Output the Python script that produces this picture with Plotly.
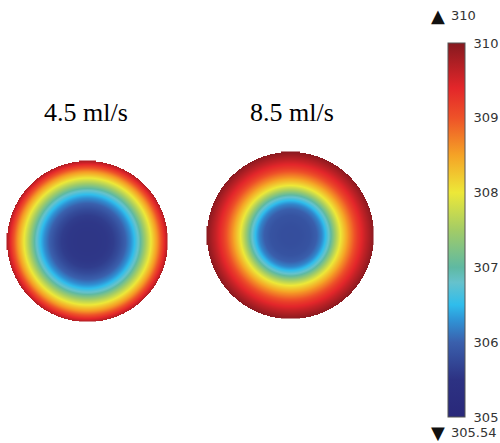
import numpy as np
import plotly.graph_objects as go

# Radial temperature profiles (values on the colour-bar scale)
flow_labels = ["4.5 ml/s", "8.5 ml/s"]
left_radius = [0, 10, 20, 26, 32, 38, 43, 47, 52, 58, 64, 70, 75, 80]
left_temp = [305.54, 305.54, 305.56, 305.62, 305.78, 306.0, 306.25, 306.5, 306.9, 307.5, 308.05, 308.6, 309.15, 309.7]
right_radius = [0, 10, 20, 26, 31, 35, 40, 45, 50, 58, 67, 75, 83]
right_temp = [305.8, 305.81, 305.86, 305.98, 306.2, 306.5, 306.95, 307.5, 308.0, 308.6, 309.2, 309.6, 309.95]
cbar_ticks = [305, 306, 307, 308, 309, 310]
t_min, t_max = 305.54, 310.0

# Placement of the two discs and the colour bar, in page pixels
discs = [
    dict(cx=87, cy=241, R=80, r=left_radius, t=left_temp, label_x=85.5),
    dict(cx=290, cy=235, R=83, r=right_radius, t=right_temp, label_x=291.5),
]
bar_left, bar_right, bar_top, bar_bottom = 448, 465, 43, 417
z_lo, z_hi = 305, 310

rainbow = [
    [0.00, "#29287a"],
    [0.10, "#2d3283"],
    [0.20, "#3a60ad"],
    [0.26, "#2f94d6"],
    [0.30, "#2fbdec"],
    [0.36, "#66c2cc"],
    [0.40, "#5fb9a2"],
    [0.50, "#a3cc66"],
    [0.60, "#ede838"],
    [0.70, "#f5a326"],
    [0.80, "#ee5228"],
    [0.88, "#e3262a"],
    [1.00, "#85191f"],
]

fig = go.Figure()

for i, d in enumerate(discs):
    xs = np.arange(d["cx"] - d["R"], d["cx"] + d["R"] + 1, 1.0)
    ys = np.arange(d["cy"] - d["R"], d["cy"] + d["R"] + 1, 1.0)
    X, Y = np.meshgrid(xs, ys)
    rr = np.hypot(X - d["cx"], Y - d["cy"])
    z = np.interp(rr, d["r"], d["t"])
    z[rr > d["R"] + 0.5] = np.nan
    fig.add_trace(go.Heatmap(
        x=xs, y=ys, z=z,
        colorscale=rainbow, zmin=z_lo, zmax=z_hi,
        showscale=(i == 0),
        hoverinfo="skip",
        colorbar=dict(
            x=bar_left / 500, xanchor="left", xref="paper",
            y=1 - bar_top / 443, yanchor="top", yref="paper",
            len=bar_bottom - bar_top, lenmode="pixels",
            thickness=bar_right - bar_left, thicknessmode="pixels",
            outlinewidth=1, outlinecolor="#555555",
            tickvals=cbar_ticks, ticktext=[str(v) for v in cbar_ticks],
            ticks="outside", ticklen=6, tickcolor="rgba(0,0,0,0)",
            tickfont=dict(family="DejaVu Sans", size=13, color="#333333"),
            xpad=0, ypad=0,
        ),
    ))

# Small tick dashes on both edges of the colour bar
shapes = []
for v in cbar_ticks:
    if z_lo < v < z_hi:
        yv = bar_top + (z_hi - v) / (z_hi - z_lo) * (bar_bottom - bar_top)
        for x0, x1 in [(bar_left, bar_left + 3), (bar_right - 3, bar_right)]:
            shapes.append(dict(type="line", xref="x", yref="y", x0=x0, x1=x1,
                               y0=yv, y1=yv, line=dict(color="#333333", width=1)))

annotations = []
for d, lab in zip(discs, flow_labels):
    annotations.append(dict(
        x=d["label_x"], y=112, xref="x", yref="y", text=lab, showarrow=False,
        xanchor="center", yanchor="middle",
        font=dict(family="Liberation Serif", size=26, color="black"),
    ))

small = dict(family="DejaVu Sans", size=13, color="#333333")
tri = dict(family="DejaVu Sans", size=18, color="#111111")
annotations += [
    dict(x=437.5, y=15, xref="x", yref="y", text="▲", showarrow=False,
         xanchor="center", yanchor="middle", font=tri),
    dict(x=449, y=15, xref="x", yref="y", text=f"{t_max:g}", showarrow=False,
         xanchor="left", yanchor="middle", font=small),
    dict(x=437.5, y=432, xref="x", yref="y", text="▼", showarrow=False,
         xanchor="center", yanchor="middle", font=tri),
    dict(x=449, y=432, xref="x", yref="y", text=f"{t_min:.2f}", showarrow=False,
         xanchor="left", yanchor="middle", font=small),
]

fig.update_layout(
    width=500, height=443,
    margin=dict(l=0, r=0, t=0, b=0, autoexpand=False),
    paper_bgcolor="white", plot_bgcolor="white",
    xaxis=dict(range=[0, 500], visible=False, fixedrange=True),
    yaxis=dict(range=[443, 0], visible=False, fixedrange=True),
    annotations=annotations,
    shapes=shapes,
    showlegend=False,
)

fig.write_html("out.html")
